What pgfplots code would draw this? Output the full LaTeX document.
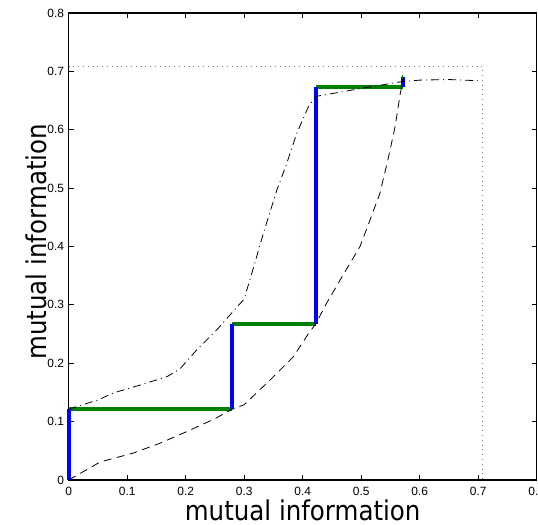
\documentclass[border=0pt]{standalone}
\usepackage{fontspec}
\setmainfont{Liberation Sans}
\newfontfamily\labelfont[FakeStretch=0.9]{DejaVu Sans}
\usepackage{pgfplots}
\pgfplotsset{compat=1.18}
\usetikzlibrary{calc}

\definecolor{mgreen}{RGB}{0,128,0}

\begin{document}
\begin{tikzpicture}
\begin{axis}[
  scale only axis, width=351bp, height=350.25bp,
  xmin=0, xmax=0.8, ymin=0, ymax=0.8,
  xtick={0,0.1,0.2,0.3,0.4,0.5,0.6,0.7,0.8},
  ytick={0,0.1,0.2,0.3,0.4,0.5,0.6,0.7,0.8},
  tick align=inside, major tick length=3.75bp,
  axis line style={line width=0.9bp},
  tick style={line width=0.6bp, black},
  tick label style={font=\fontsize{9}{10}\selectfont},
  xticklabel style={yshift=-2bp},
  /pgf/number format/assume math mode=true,
  /pgf/number format/fixed,
  label style={font=\labelfont\fontsize{20.5}{24}\selectfont},
  xlabel={mutual information},
  ylabel={mutual information},
  xlabel style={at={(axis description cs:0.5,-0.0857)}, anchor=base},
  ylabel style={at={(axis description cs:-0.0464,0.51)}, anchor=base},
  clip=false,
]
% reference lines
\addplot[gray, line width=0.6bp, dash pattern=on 0.6bp off 3bp]
  coordinates {(0,0.708)(0.708,0.708)(0.708,0)};
% staircase
\addplot[mgreen, line width=3bp] coordinates {(0,0.121)(0.279,0.121)};
\addplot[mgreen, line width=3bp] coordinates {(0.279,0.267)(0.422,0.267)};
\addplot[mgreen, line width=3bp] coordinates {(0.422,0.673)(0.571,0.673)};
\addplot[blue, line width=3bp] coordinates {(0,0)(0,0.121)};
\addplot[blue, line width=3bp] coordinates {(0.279,0.121)(0.279,0.267)};
\addplot[blue, line width=3bp] coordinates {(0.422,0.267)(0.422,0.673)};
\addplot[blue, line width=3bp] coordinates {(0.571,0.673)(0.571,0.690)};
\addplot[mgreen, line width=3bp] coordinates {(0.5705,0.690)(0.5715,0.690)};
% upper curve (dash-dot)
\addplot[black, line width=0.6bp, dash pattern=on 6bp off 3bp on 0.8bp off 3bp]
  coordinates {(0,0.121)(0.014,0.126)(0.05,0.137)(0.076,0.149)(0.12,0.162)
  (0.168,0.177)(0.19,0.19)(0.219,0.223)(0.253,0.257)(0.276,0.283)(0.3,0.31)
  (0.318,0.371)(0.333,0.423)(0.356,0.497)(0.373,0.543)(0.39,0.594)(0.41,0.64)
  (0.422,0.657)(0.49,0.669)(0.566,0.682)(0.6,0.685)(0.65,0.686)(0.7,0.684)};
% lower curve (dashed)
\addplot[black, line width=0.6bp, dash pattern=on 6bp off 4bp]
  coordinates {(0,0)(0.054,0.031)(0.11,0.046)(0.156,0.063)(0.202,0.083)
  (0.25,0.105)(0.279,0.121)(0.30,0.129)(0.344,0.171)(0.384,0.211)(0.41,0.251)
  (0.422,0.267)(0.441,0.303)(0.469,0.351)(0.498,0.40)(0.515,0.445)(0.532,0.491)
  (0.546,0.55)(0.558,0.605)(0.566,0.657)(0.572,0.69)};
\coordinate (bl) at (rel axis cs:0,0);
\coordinate (tr) at (rel axis cs:1,1);
\end{axis}
\pgfresetboundingbox
\path ($(bl)+(-51.5bp,-33bp)$) rectangle ($(tr)+(1bp,9.75bp)$);
\end{tikzpicture}
\end{document}
